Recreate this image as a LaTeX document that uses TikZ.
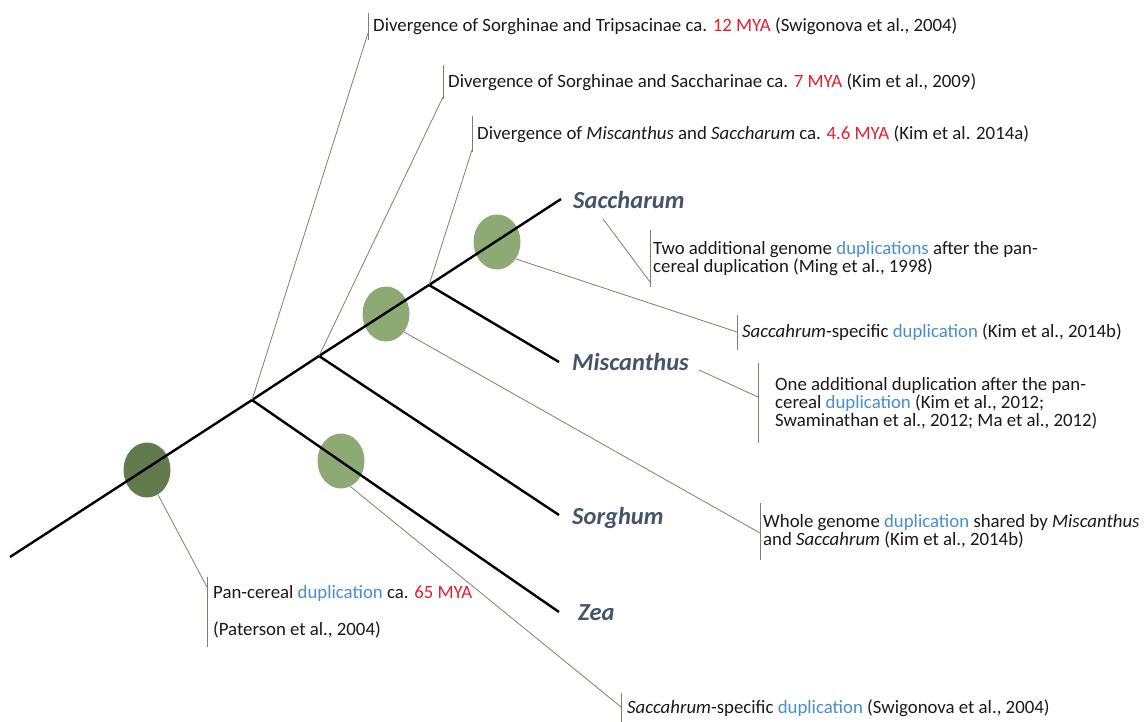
\documentclass[tikz,border=0pt]{standalone}
\usepackage{fontspec}
\setmainfont{Carlito}
\usetikzlibrary{calc,shapes.geometric}

\definecolor{taxon}{RGB}{68,84,106}
\definecolor{myared}{RGB}{228,32,44}
\definecolor{dupblue}{RGB}{72,142,204}
\definecolor{paleolive}{RGB}{141,169,116}
\definecolor{darkolive}{RGB}{99,122,78}
\definecolor{leadgray}{RGB}{122,130,108}
\definecolor{ink}{RGB}{25,25,25}
\newcommand{\mya}[1]{\textcolor{myared}{#1}}
\newcommand{\dupl}[1]{\textcolor{dupblue}{#1}}
\newcommand{\notefont}{\fontsize{18.8}{16}\selectfont}

\begin{document}
\begin{tikzpicture}[x=1pt,y=-1pt,
  branch/.style={line width=2.4pt},
  lead/.style={line width=0.8pt, leadgray},
  blob/.style={ellipse, inner sep=0pt, minimum width=47pt, minimum height=55pt, fill=paleolive},
  taxon/.style={anchor=west, inner sep=0pt, text=taxon, font=\fontsize{24.5}{28}\selectfont\bfseries\itshape},
  note/.style={anchor=west, align=left, inner xsep=5pt, inner ysep=0pt, text=ink, font=\notefont,
    append after command={(\tikzlastnode.north west) edge[lead] (\tikzlastnode.south west)}}]
\useasboundingbox (0,0) rectangle (1148,721);
% taxa
\node[taxon] (sac) at (573,200) {Saccharum};
\node[taxon] (mis) at (572,362) {Miscanthus};
\node[taxon] (sor) at (572,518) {Sorghum};
\node[taxon] (zea) at (578,613) {Zea};
% branch points and tips
\coordinate (root) at (10,557);
\coordinate (k1) at (252,400);
\coordinate (k2) at (319,356);
\coordinate (k3) at (429,285);
\coordinate (tsac) at (561,199);
\coordinate (tmis) at (559,362);
\coordinate (tsor) at (559,515);
\coordinate (tzea) at (559,612);
% duplications
\node[blob, fill=darkolive] (e0) at (147,470) {};
\node[blob] (e1) at (341,461) {};
\node[blob] (e2) at (386,314) {};
\node[blob] (e3) at (497,242) {};
% tree
\draw[branch] (root) -- (k1) -- (k2) -- (k3) -- (tsac);
\draw[branch] (k1) -- (tzea);
\draw[branch] (k2) -- (tsor);
\draw[branch] (k3) -- (tmis);
% notes
\node[note, minimum height=27pt] (n1) at (368,26.5) {Divergence of Sorghinae and Tripsacinae ca. \mya{12 MYA} (Swigonova et al., 2004)};
\node[note, minimum height=34pt] (n2) at (443,82) {Divergence of Sorghinae and Saccharinae ca. \mya{7 MYA} (Kim et al., 2009)};
\node[note, minimum height=36pt] (n3) at (472,134) {Divergence of \textit{Miscanthus} and \textit{Saccharum} ca. \mya{4.6 MYA} (Kim et al. 2014a)};
\node[note, minimum height=57pt, inner xsep=3pt] (n4) at (650,258.5) {Two additional genome \dupl{duplications} after the pan-\\cereal duplication (Ming et al., 1998)};
\node[note, minimum height=35pt] (n5) at (737,332.5) {\textit{Saccahrum}-specific \dupl{duplication} (Kim et al., 2014b)};
\node[note, minimum height=80pt, inner xsep=17pt] (n6) at (758,403) {One additional duplication after the pan-\\cereal \dupl{duplication} (Kim et al., 2012;\\Swaminathan et al., 2012; Ma et al., 2012)};
\node[note, minimum height=57pt, inner xsep=3pt] (n7) at (760,531.5) {Whole genome \dupl{duplication} shared by \textit{Miscanthus}\\and \textit{Saccahrum} (Kim et al., 2014b)};
\node[note, minimum height=70pt, inner xsep=6pt] (n8) at (207,612) {Pan-cereal \dupl{duplication} ca. \mya{65 MYA}\\[19pt](Paterson et al., 2004)};
\node[note, minimum height=30pt, inner xsep=6pt] (n9) at (621,708) {\textit{Saccahrum}-specific \dupl{duplication} (Swigonova et al., 2004)};
% leaders
\coordinate (c1) at (368,33);
\coordinate (c2) at (443,97);
\coordinate (c3) at (472,150);
\coordinate (c4) at (650,282);
\coordinate (c5) at (737,332);
\coordinate (c6) at (758,397);
\coordinate (c7) at (760,533);
\coordinate (c8) at (207,587);
\coordinate (c9) at (621,707);
\draw[lead] (k1) -- (c1);
\draw[lead] (k2) -- (c2);
\draw[lead] (k3) -- (c3);
\draw[lead] ($(sac.south west)+(30,10)$) -- (c4);
\draw[lead] (e3.-42) -- (c5);
\draw[lead] ($(mis.east)+(10,8)$) -- (c6);
\draw[lead] (e2.-45) -- (c7);
\draw[lead] (e0.-66) -- (c8);
\draw[lead] (e1.-70) -- (c9);
\end{tikzpicture}
\end{document}
